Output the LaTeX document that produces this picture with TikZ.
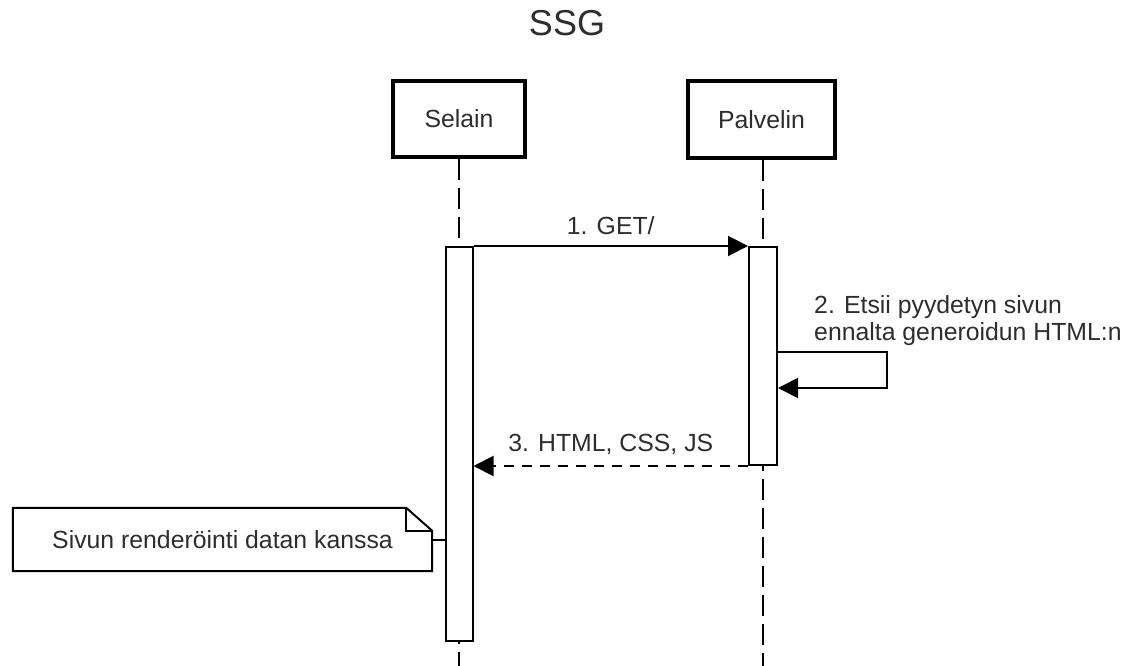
\documentclass[tikz,border=0pt]{standalone}
\usepackage{fontspec}
\setmainfont{Liberation Sans}
\usetikzlibrary{arrows.meta}
\definecolor{txt}{RGB}{45,45,45}
\tikzset{
  lbl/.style={text=txt, font=\fontsize{24.8}{27}\selectfont, inner sep=0pt},
  actor/.style={draw=black, line width=4pt, fill=white, minimum height=76pt, text=txt, font=\fontsize{24.8}{27}\selectfont},
  actbar/.style={draw=black, line width=2pt, fill=white, minimum width=27pt, inner sep=0pt},
  lifeline/.style={draw=black, line width=2pt, dash pattern=on 21pt off 8pt},
  msg/.style={draw=black, line width=2pt, -{Triangle[length=20pt,width=20pt]}},
  ret/.style={draw=black, line width=2pt, dash pattern=on 10pt off 8pt, -{Triangle[length=20pt,width=20pt]}},
  notebox/.style={draw=black, line width=2pt, line join=miter}
}
\begin{document}
\begin{tikzpicture}[x=1pt,y=-1pt]
\useasboundingbox (0,0) rectangle (1132,666);
% title
\node[lbl, font=\fontsize{36}{40}\selectfont, anchor=base] (title) at (567,36) {SSG};
% lifeline ends
\coordinate (selend) at (459,666);
\coordinate (palend) at (763,666);
% actors
\node[actor, minimum width=132pt] (sel) at (459,119) {Selain};
\node[actor, minimum width=147pt] (pal) at (761.5,119.5) {Palvelin};
\draw[lifeline] (sel.south) -- (selend);
\draw[lifeline] (pal.south -| palend) -- (palend);
% activation bars
\node[actbar, minimum height=394pt] (selbar) at (459,444) {};
\node[actbar, minimum width=28pt, minimum height=218pt] (palbar) at (763,356) {};
% message 1
\draw[msg] (selbar.north east) -- node[lbl, above=10pt] (m1) {1. GET/} (palbar.north west);
% self message 2
\coordinate (sa) at (palbar.east |- 0,352);
\coordinate (sb) at (887,352);
\coordinate (sc) at (887,388);
\coordinate (sd) at (palbar.east |- 0,388);
\draw[msg, line join=miter] (sa) -- (sb) -- (sc) -- (sd);
\node[lbl, anchor=west, align=left] (m2) at (814,321) {2. Etsii pyydetyn sivun\\ennalta generoidun HTML:n};
% return 3
\draw[ret] (palbar.south west) -- node[lbl, above=10pt] (m3) {3. HTML, CSS, JS} (selbar.east |- palbar.south west);
% note
\node[lbl, minimum width=419pt, minimum height=63pt] (note) at (222.5,539.5) {Sivun renderöinti datan kanssa};
\draw[notebox] (note.north west) -- ([xshift=-26pt]note.north east) -- ([yshift=-23pt]note.north east) -- (note.south east) -- (note.south west) -- cycle;
\draw[notebox] ([xshift=-26pt]note.north east) -- ([xshift=-26pt,yshift=-23pt]note.north east) -- ([yshift=-23pt]note.north east);
\draw[draw=black, line width=2pt] (note.east) -- (selbar.west |- note.east);
\end{tikzpicture}
\end{document}
